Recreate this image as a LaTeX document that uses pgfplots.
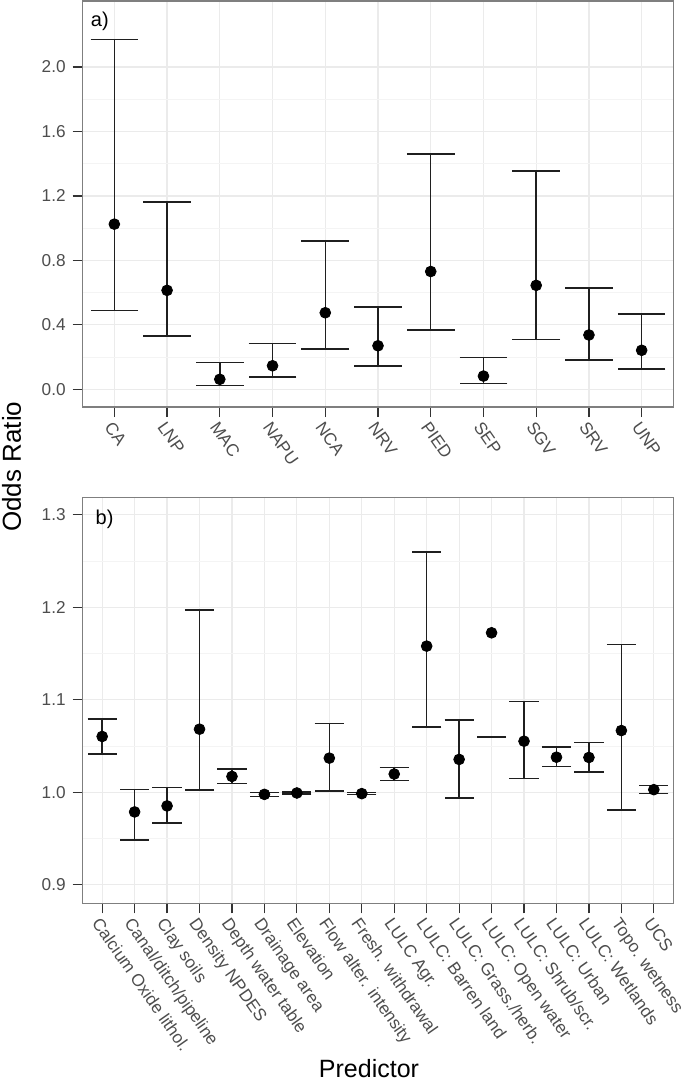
\documentclass[border=0pt]{standalone}
\usepackage{pgfplots}
\pgfplotsset{compat=1.18}
\usepackage{pgfplotstable}
\usepackage{fontspec}
\setmainfont{Liberation Sans}
\definecolor{gridmaj}{HTML}{EBEBEB}
\definecolor{gridmin}{HTML}{F4F4F4}
\definecolor{tickcol}{HTML}{333333}
\definecolor{labcol}{HTML}{4D4D4D}
\definecolor{bordercol}{HTML}{7F7F7F}

\pgfplotstableread{
x y lo hi
0 1.025 0.490 2.170
1 0.614 0.330 1.161
2 0.062 0.022 0.167
3 0.146 0.076 0.285
4 0.475 0.250 0.921
5 0.270 0.146 0.512
6 0.731 0.368 1.459
7 0.082 0.037 0.196
8 0.645 0.310 1.355
9 0.337 0.182 0.630
10 0.242 0.126 0.467
}\dataA

\pgfplotstableread{
x y lo hi
0 1.0604 1.0417 1.0795
1 0.9788 0.9482 1.0032
2 0.9853 0.9666 1.0050
3 1.0683 1.0025 1.1973
4 1.0172 1.0097 1.0251
5 0.9978 0.9957 1.0000
6 0.9993 0.9982 1.0004
7 1.0370 1.0014 1.0744
8 0.9986 0.9975 0.9998
9 1.0198 1.0129 1.0266
10 1.1581 1.0708 1.2598
11 1.0356 0.9939 1.0784
13 1.0553 1.0151 1.0981
14 1.0380 1.0280 1.0489
15 1.0377 1.0219 1.0539
16 1.0668 0.9809 1.1599
17 1.0029 0.9989 1.0072
}\dataB

\pgfplotsset{
  orax/.style={
    scale only axis, width=295.3pt, height=203pt,
    axis line style={bordercol, line width=0.6pt},
    tick align=outside, tick pos=left,
    major tick length=5pt, minor tick length=0pt,
    major tick style={tickcol, line width=0.6pt},
    grid=both,
    major grid style={gridmaj, line width=0.6pt},
    minor grid style={gridmin, line width=0.5pt},
    minor y tick num=1,
    ticklabel style={font=\fontsize{8.6}{10}\selectfont, text=labcol},
    /pgf/number format/assume math mode=true,
    yticklabel style={/pgf/number format/.cd, fixed, fixed zerofill, precision=1},
    xticklabel style={rotate=-55, anchor=north west, inner sep=1pt},
  },
  ebar/.style={black, mark=*, mark size=2.7pt, only marks,
    error bars/.cd, y dir=both, y explicit,
    error bar style={line width=0.75pt, color=black!88},
    error mark options={rotate=90, mark size=#1, line width=0.75pt, black!88}},
}

\begin{document}
\begin{tikzpicture}
\begin{axis}[orax, at={(0,0)}, anchor=north west,
  xmin=-0.6, xmax=10.6, ymin=-0.11, ymax=2.41,
  xtick={0,...,10},
  xticklabels={CA,LNP,MAC,NAPU,NCA,NRV,PIED,SEP,SGV,SRV,UNP},
  ytick={0,0.4,...,2.0}]
\addplot[ebar=11.9pt] table[x=x, y=y, y error plus expr=\thisrow{hi}-\thisrow{y}, y error minus expr=\thisrow{y}-\thisrow{lo}] {\dataA};
\node[font=\fontsize{10}{12}\selectfont] at (rel axis cs:0.029,0.951) {a)};
\end{axis}

\begin{axis}[orax, at={(0,-248.15pt)}, anchor=north west,
  xmin=-0.6, xmax=17.6, ymin=0.880, ymax=1.319,
  xtick={0,...,17},
  xticklabels={Calcium Oxide lithol.,Canal/ditch/pipeline,Clay soils,Density NPDES,Depth water table,Drainage area,Elevation,Flow alter. intensity,Fresh. withdrawal,LULC Agr.,LULC: Barren land,LULC: Grass./herb.,LULC: Open water,LULC: Shrub/scr.,LULC: Urban,LULC: Wetlands,Topo. wetness,UCS},
  ytick={0.9,1.0,1.1,1.2,1.3}]
\addplot[ebar=7.3pt] table[x=x, y=y, y error plus expr=\thisrow{hi}-\thisrow{y}, y error minus expr=\thisrow{y}-\thisrow{lo}] {\dataB};
\addplot[black, mark=*, mark size=2.7pt, only marks] coordinates {(12,1.1725)};
\addplot[black!88, mark=-, mark size=7.3pt, only marks, mark options={line width=0.75pt}] coordinates {(12,1.0597)};
\node[font=\fontsize{10}{12}\selectfont] at (rel axis cs:0.037,0.947) {b)};
\end{axis}

\node[rotate=90, font=\fontsize{13}{15}\selectfont] at (-35.5pt,-232.85pt) {Odds Ratio};
\node[anchor=base, font=\fontsize{12.5}{15}\selectfont] at (143.15pt,-538pt) {Predictor};

\pgfresetboundingbox
\useasboundingbox (-41.35pt,0.5pt) rectangle (301.15pt,-540.5pt);
\end{tikzpicture}
\end{document}
